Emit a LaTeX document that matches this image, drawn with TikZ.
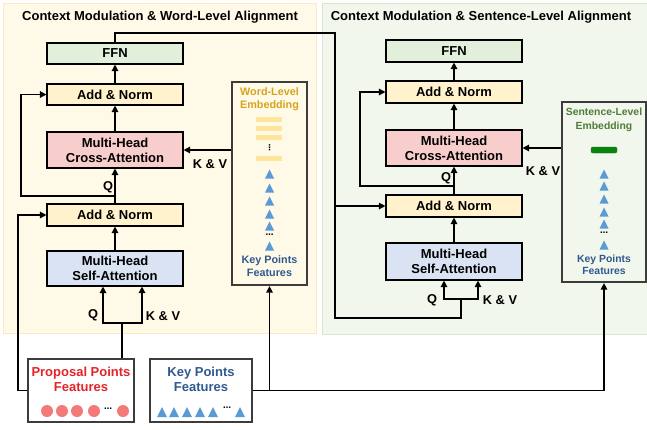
\documentclass[tikz,border=0pt]{standalone}
\usepackage{fontspec}
\setmainfont{Liberation Sans}
\newfontfamily\dotsfont{DejaVu Sans}
\usetikzlibrary{arrows.meta, positioning, calc}
\definecolor{panelyellow}{RGB}{255,249,232}
\definecolor{panelyellowline}{RGB}{250,234,196}
\definecolor{panelgreen}{RGB}{241,247,237}
\definecolor{panelgreenline}{RGB}{214,232,204}
\definecolor{ffngreen}{RGB}{226,239,218}
\definecolor{addyellow}{RGB}{255,242,204}
\definecolor{crosspink}{RGB}{248,206,204}
\definecolor{selfblue}{RGB}{218,227,243}
\definecolor{wordgold}{RGB}{214,164,28}
\definecolor{wordbar}{RGB}{255,229,153}
\definecolor{sentgreen}{RGB}{80,124,56}
\definecolor{sentbar}{RGB}{10,132,10}
\definecolor{kpblue}{RGB}{47,90,143}
\definecolor{kptri}{RGB}{91,155,213}
\definecolor{propred}{RGB}{228,36,42}
\definecolor{propdot}{RGB}{244,122,122}
\definecolor{boxgray}{RGB}{60,60,60}

\begin{document}
\begin{tikzpicture}[x=1pt, y=-1pt,
  module/.style={draw=black, line width=1.1pt, minimum width=136pt, inner sep=0pt,
    align=center, font=\fontsize{13}{15}\selectfont\bfseries},
  embbox/.style={draw=boxgray, line width=2.2pt, inner sep=0pt},
  featbox/.style={draw=boxgray, line width=2.2pt, fill=white, inner sep=0pt},
  wire/.style={line width=1.3pt},
  feed/.style={wire, -{Triangle[length=6.5pt, width=6.5pt]}},
  tag/.style={font=\fontsize{12.8}{14}\selectfont\bfseries, inner sep=0pt},
  heading/.style={font=\fontsize{13}{15}\selectfont\bfseries, inner sep=0pt},
  smalltxt/.style={font=\fontsize{10.8}{13}\selectfont\bfseries, align=center, inner sep=0pt},
  ellip/.style={inner sep=0pt, font=\dotsfont\bfseries\fontsize{8}{8}\selectfont}]

  \useasboundingbox (0,0) rectangle (647,429);

  % panels
  \draw[fill=panelyellow, draw=panelyellowline, line width=0.8pt] (3,3) rectangle (316,333);
  \draw[fill=panelgreen, draw=panelgreenline, line width=0.8pt] (322,3) rectangle (647,334);
  \node[heading] (titleA) at (160,17) {Context Modulation \& Word-Level Alignment};
  \node[heading] (titleB) at (481,17) {Context Modulation \& Sentence-Level Alignment};

  % word-level column
  \node[module, fill=ffngreen, minimum height=21pt] (ffnA) at (115,53.5) {FFN};
  \node[module, fill=addyellow, minimum height=21pt] (addtopA) at (115,94.5) {Add \& Norm};
  \node[module, fill=crosspink, minimum height=36pt] (crossA) at (115,150) {Multi-Head\\Cross-Attention};
  \node[module, fill=addyellow, minimum height=22pt] (addlowA) at (115,215) {Add \& Norm};
  \node[module, fill=selfblue, minimum height=35pt] (selfA) at (115,268.5) {Multi-Head\\Self-Attention};

  % sentence-level column
  \node[module, fill=ffngreen, minimum height=22pt] (ffnB) at (454,51) {FFN};
  \node[module, fill=addyellow, minimum height=22pt] (addtopB) at (454,92) {Add \& Norm};
  \node[module, fill=crosspink, minimum height=36pt] (crossB) at (454,148) {Multi-Head\\Cross-Attention};
  \node[module, fill=addyellow, minimum height=22pt] (addlowB) at (454,206) {Add \& Norm};
  \node[module, fill=selfblue, minimum height=37pt] (selfB) at (454,261.5) {Multi-Head\\Self-Attention};

  % embedding boxes
  \node[embbox, minimum width=75pt, minimum height=203pt] (wordemb) at (269.5,183.5) {};
  \node[smalltxt, text=wordgold] (wordtitle) at (269.5,99) {Word-Level\\Embedding};
  \foreach \by in {119,128,137,158}
    \fill[wordbar] (256,\by-2.5) rectangle (282,\by+2.5);
  \node[ellip] (wordvdots) at (269.5,147.5) {⋮};
  \foreach \ty in {174,188,201,214,226,246}
    \fill[kptri] (265,\ty+4.5) -- ++(9,0) -- ++(-4.5,-9) -- cycle;
  \node[ellip] (worddots) at (269.5,236) {⋯};
  \node[smalltxt, text=kpblue] (wordkp) at (269.5,266.5) {Key Points\\Features};

  \node[embbox, minimum width=84pt, minimum height=180pt] (sentemb) at (604,192) {};
  \node[smalltxt, text=sentgreen, font=\fontsize{10.4}{14}\selectfont\bfseries] (senttitle) at (604,120) {Sentence-Level\\Embedding};
  \draw[fill=sentbar, draw=sentbar!80!black, line width=0.4pt, rounded corners=2pt] (591,147) rectangle (617,153);
  \foreach \ty in {174,186,199,212,224,245}
    \fill[kptri] (599.5,\ty+4.5) -- ++(9,0) -- ++(-4.5,-9) -- cycle;
  \node[ellip] (sentdots) at (604,234) {⋯};
  \node[smalltxt, text=kpblue, font=\fontsize{10.4}{12}\selectfont\bfseries] (sentkp) at (604,265) {Key Points\\Features};

  % input features
  \node[featbox, minimum width=106pt, minimum height=63pt] (propfeat) at (81,390.5) {};
  \node[module, draw=none, minimum width=0pt, text=propred, font=\fontsize{13}{15}\selectfont\bfseries] (proptext) at (81,379.5) {Proposal Points\\Features};
  \foreach \cx in {47,62,77,94,123}
    \fill[propdot] (\cx,411) circle (6);
  \node[ellip] (propdots) at (108,410) {⋯};

  \node[featbox, minimum width=102pt, minimum height=63pt] (keyfeat) at (201,390.5) {};
  \node[module, draw=none, minimum width=0pt, text=kpblue, font=\fontsize{13}{15}\selectfont\bfseries] (keytext) at (201,379.5) {Key Points\\Features};
  \foreach \tx in {162,174,187,200,213,240}
    \fill[kptri] (\tx-5,417) -- ++(10,0) -- ++(-5,-10) -- cycle;
  \node[ellip] (keydots) at (227,409) {⋯};

  % word-level connections
  \coordinate (resA) at (115,196);
  \coordinate (splitA) at (122,323);
  \draw[feed] (selfA) -- (addlowA);
  \draw[feed] (addlowA) -- (crossA);
  \draw[feed] (crossA) -- (addtopA);
  \draw[feed] (addtopA) -- (ffnA);
  \draw[feed] (resA) -- ++(-94,0) |- (addtopA.west);
  \draw[feed] (wordemb.west |- crossA.east) -- (crossA.east);
  \draw[wire] (propfeat.north -| splitA) -- (splitA);
  \draw[feed] (splitA) -| ($(selfA.south)+(-12,0)$);
  \draw[feed] (splitA) -| ($(selfA.south)+(27,0)$);
  \draw[feed] (propfeat.west) -- ++(-9,0) |- (addlowA.west);
  \draw[feed] (keyfeat.east) -| (wordemb.south);
  \draw[feed] (keyfeat.east) -| (sentemb.south);
  \node[tag] (qcrossA) at (108,187) {Q};
  \node[tag] (kvcrossA) at (210,164) {K \& V};
  \node[tag] (qselfA) at (93,315) {Q};
  \node[tag] (kvselfA) at (163,316) {K \& V};

  % sentence-level connections
  \coordinate (busTop) at (335,33);
  \coordinate (busBot) at (335,318);
  \coordinate (splitB) at (461,299);
  \coordinate (resB) at (454,186);
  \draw[wire] (ffnA.north) |- (busTop) -- (busBot) -| (splitB);
  \draw[feed] (busTop |- addlowB.west) -- (addlowB.west);
  \draw[feed] (splitB) -| ($(selfB.south)+(-10,0)$);
  \draw[feed] (splitB) -| ($(selfB.south)+(24,0)$);
  \draw[feed] (selfB) -- (addlowB);
  \draw[feed] (addlowB) -- (crossB);
  \draw[feed] (crossB) -- (addtopB);
  \draw[feed] (addtopB) -- (ffnB);
  \draw[feed] (resB) -- ++(-94,0) |- (addtopB.west);
  \draw[feed] (sentemb.west |- crossB.east) -- (crossB.east);
  \node[tag] (qcrossB) at (446,178) {Q};
  \node[tag] (kvcrossB) at (543,171) {K \& V};
  \node[tag] (qselfB) at (432,300) {Q};
  \node[tag] (kvselfB) at (500,300) {K \& V};
\end{tikzpicture}
\end{document}
